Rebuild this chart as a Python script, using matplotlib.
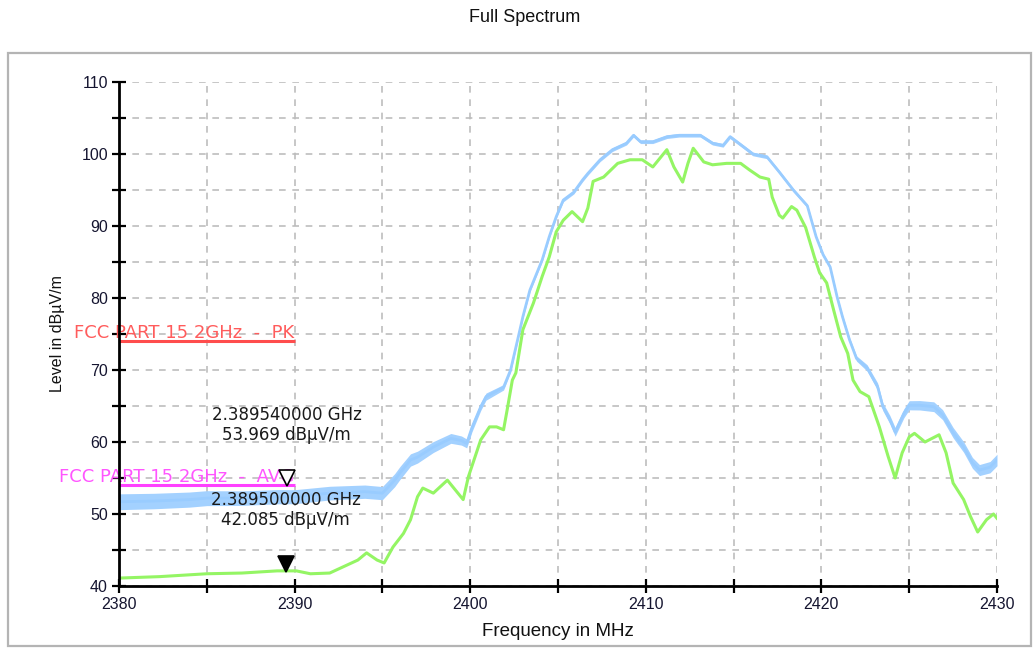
import matplotlib
matplotlib.use("Agg")
import matplotlib.pyplot as plt
import numpy as np
from matplotlib.patches import Rectangle
from matplotlib.ticker import MultipleLocator
from matplotlib.transforms import offset_copy

# peak trace (light blue), MHz / dBuV/m
peak_mhz = [2380, 2382, 2384, 2385, 2387, 2389, 2390, 2392, 2394, 2395, 2395.7,
            2396.0, 2396.6, 2397.0, 2397.9, 2398.9, 2399.5, 2399.8, 2400.1, 2400.6,
            2400.9, 2401.9, 2402.3, 2402.7, 2403.0, 2403.4, 2403.8, 2404.1, 2404.5,
            2404.9, 2405.3, 2405.9, 2406.4, 2406.7, 2407.4, 2408.1, 2408.9, 2409.3,
            2409.7, 2410.4, 2411.2, 2411.9, 2413.1, 2413.8, 2414.4, 2414.8, 2415.4,
            2416.1, 2416.9, 2417.6, 2418.4, 2419.2, 2419.7, 2420.1, 2420.5, 2420.9,
            2421.2, 2421.6, 2422.0, 2422.6, 2423.2, 2423.5, 2423.9, 2424.2, 2424.7,
            2425.0, 2425.6, 2426.4, 2426.9, 2427.5, 2428.1, 2428.6, 2429.0, 2429.6,
            2430.0]
peak_db = [51.7, 51.8, 52.0, 52.2, 52.2, 52.4, 52.4, 52.9, 53.1, 52.9, 54.7,
           55.7, 57.5, 57.9, 59.3, 60.5, 60.2, 59.8, 62.0, 64.9,
           66.3, 67.6, 70.0, 74.2, 77.4, 81.1, 83.5, 85.3, 88.5,
           91.3, 93.6, 94.7, 96.4, 97.3, 99.2, 100.6, 101.5, 102.6,
           101.7, 101.7, 102.4, 102.6, 102.6, 101.5, 101.2, 102.4, 101.3,
           100.0, 99.6, 97.5, 95.0, 92.8, 88.5, 86.0, 84.3, 80.1,
           77.4, 74.2, 71.6, 70.3, 67.7, 64.9, 63.1, 61.4, 64.0,
           65.1, 65.1, 64.9, 63.8, 61.3, 59.3, 57.1, 56.1, 56.5,
           57.5]
# half width of the noise band around the peak trace
peak_noise_mhz = [2380, 2396, 2400, 2403, 2421, 2424, 2430]
peak_noise_db = [1.1, 0.9, 0.6, 0.25, 0.25, 0.6, 0.8]

# average trace (light green)
avg_mhz = [2380, 2382.3, 2385, 2387, 2389, 2389.5, 2390.1, 2390.9, 2392, 2392.8,
           2393.6, 2394.1, 2394.7, 2395.1, 2395.6, 2396.2, 2396.6, 2397.0, 2397.3,
           2397.9, 2398.7, 2399.0, 2399.6, 2399.9, 2400.6, 2401.1, 2401.5, 2401.9,
           2402.1, 2402.4, 2402.6, 2403.0, 2403.6, 2404.1, 2404.5, 2404.9, 2405.3,
           2405.8, 2406.4, 2406.7, 2407.0, 2407.6, 2408.4, 2409.1, 2409.8, 2410.4,
           2411.2, 2411.6, 2412.1, 2412.4, 2412.7, 2413.3, 2413.8, 2414.6, 2415.4,
           2415.9, 2416.5, 2417.0, 2417.2, 2417.6, 2417.8, 2418.3, 2418.6, 2419.1,
           2419.6, 2419.9, 2420.3, 2420.7, 2421.1, 2421.5, 2421.8, 2422.2, 2422.7,
           2423.3, 2423.8, 2424.2, 2424.6, 2425.0, 2425.3, 2425.9, 2426.7, 2427.1,
           2427.5, 2428.1, 2428.5, 2428.9, 2429.4, 2429.8, 2430.0]
avg_db = [41.1, 41.3, 41.7, 41.8, 42.1, 42.1, 42.1, 41.7, 41.8, 42.7,
          43.6, 44.6, 43.6, 43.2, 45.4, 47.3, 49.2, 52.4, 53.6,
          52.9, 54.7, 53.8, 52.0, 55.2, 60.3, 62.1, 62.1, 61.7,
          64.4, 68.6, 69.6, 75.6, 79.3, 83.0, 85.7, 89.2, 90.8,
          92.0, 90.6, 92.5, 96.2, 96.8, 98.7, 99.2, 99.2, 98.2,
          100.6, 98.2, 96.1, 98.7, 100.8, 98.9, 98.5, 98.7, 98.7,
          97.8, 96.8, 96.5, 94.0, 91.5, 91.1, 92.7, 92.2, 89.8,
          85.7, 83.5, 82.1, 78.3, 74.6, 72.3, 68.6, 67.0, 66.3,
          62.1, 58.0, 55.0, 58.5, 60.7, 61.2, 60.0, 61.0, 58.5,
          54.3, 52.0, 49.6, 47.5, 49.2, 50.0, 49.4]

# limit lines
limit_names = ["FCC PART 15 2GHz  -  PK", "FCC PART 15 2GHz  -  AVG"]
limit_levels = [74, 54]
limit_start = [2380, 2380]
limit_stop = [2390, 2390]
limit_colors = ["#ff4d4d", "#ff40ff"]
limit_text_colors = ["#ff5c5c", "#ff55ff"]

# markers
marker_mhz = [2389.54, 2389.5]
marker_db = [53.969, 42.085]
marker_labels = ["2.389540000 GHz\n53.969 dB\u00b5V/m", "2.389500000 GHz\n42.085 dB\u00b5V/m"]
marker_filled = [False, True]


def main():
    plt.rcParams["font.family"] = ["Liberation Sans", "DejaVu Sans"]
    fig = plt.figure(figsize=(10.35, 6.48), dpi=100)
    ax = fig.add_axes([119 / 1035, 62 / 648, 878 / 1035, 504 / 648])

    # outer grey frame
    fig.patches.append(Rectangle((8 / 1035, 2 / 648), 1023 / 1035, 593 / 648,
                                 transform=fig.transFigure, fill=False,
                                 ec="#b4b4b4", lw=1.6))
    fig.text(0.507, 1 - 18 / 648, "Full Spectrum", ha="center", va="center",
             fontsize=13, color="#111111")

    noise = np.interp(peak_mhz, peak_noise_mhz, peak_noise_db)
    lo = [p - n for p, n in zip(peak_db, noise)]
    hi = [p + n for p, n in zip(peak_db, noise)]
    ax.fill_between(peak_mhz, lo, hi, color="#a3d1ff", lw=0, zorder=2)
    ax.plot(peak_mhz, peak_db, color="#99ccff", lw=2, zorder=3)
    ax.plot(avg_mhz, avg_db, color="#94f564", lw=2.2, zorder=4)

    for name, lvl, x0, x1, c, tc in zip(limit_names, limit_levels, limit_start,
                                        limit_stop, limit_colors, limit_text_colors):
        ax.hlines(lvl, x0, x1, color=c, lw=2.2, zorder=5)
        ax.annotate(name, xy=(x1, lvl), xytext=(0, 6), textcoords="offset points",
                    ha="right", va="center", color=tc, fontsize=13,
                    family="DejaVu Sans", annotation_clip=False, zorder=6)

    up = offset_copy(ax.transData, fig=fig, x=0, y=5, units="points")
    for f, v, lab, filled in zip(marker_mhz, marker_db, marker_labels, marker_filled):
        ax.plot([f], [v], marker="v", ms=12, transform=up, zorder=7,
                mfc="black" if filled else "white", mec="black", mew=1.2)
        ax.annotate(lab, xy=(f, v), xytext=(0, 30), textcoords="offset points",
                    ha="center", va="bottom", fontsize=12, family="DejaVu Sans",
                    color="#1a1a1a", linespacing=1.15, zorder=8)

    ax.set_xlim(2380, 2430)
    ax.set_ylim(40, 110)
    ax.xaxis.set_major_locator(MultipleLocator(10))
    ax.xaxis.set_minor_locator(MultipleLocator(5))
    ax.yaxis.set_major_locator(MultipleLocator(10))
    ax.yaxis.set_minor_locator(MultipleLocator(5))
    ax.grid(which="both", color="#bdbdbd", ls=(0, (4, 4)), lw=1.2, zorder=1)
    ax.tick_params(which="both", direction="inout", length=10, width=1.6,
                   color="black", labelsize=11.5, labelcolor="#151530", pad=3)
    for s in ["top", "right"]:
        ax.spines[s].set_visible(False)
    for s in ["left", "bottom"]:
        ax.spines[s].set_linewidth(2)
        ax.spines[s].set_zorder(9)

    ax.set_xlabel("Frequency in MHz", fontsize=13.5, color="#111111")
    ax.set_ylabel("Level in dB\u00b5V/m", fontsize=11.5, color="#111111")
    ax.xaxis.set_label_coords(0.5, -0.073)
    ax.yaxis.set_label_coords(-0.061, 0.5)

    fig.savefig("out.png", dpi=100)


if __name__ == "__main__":
    main()
